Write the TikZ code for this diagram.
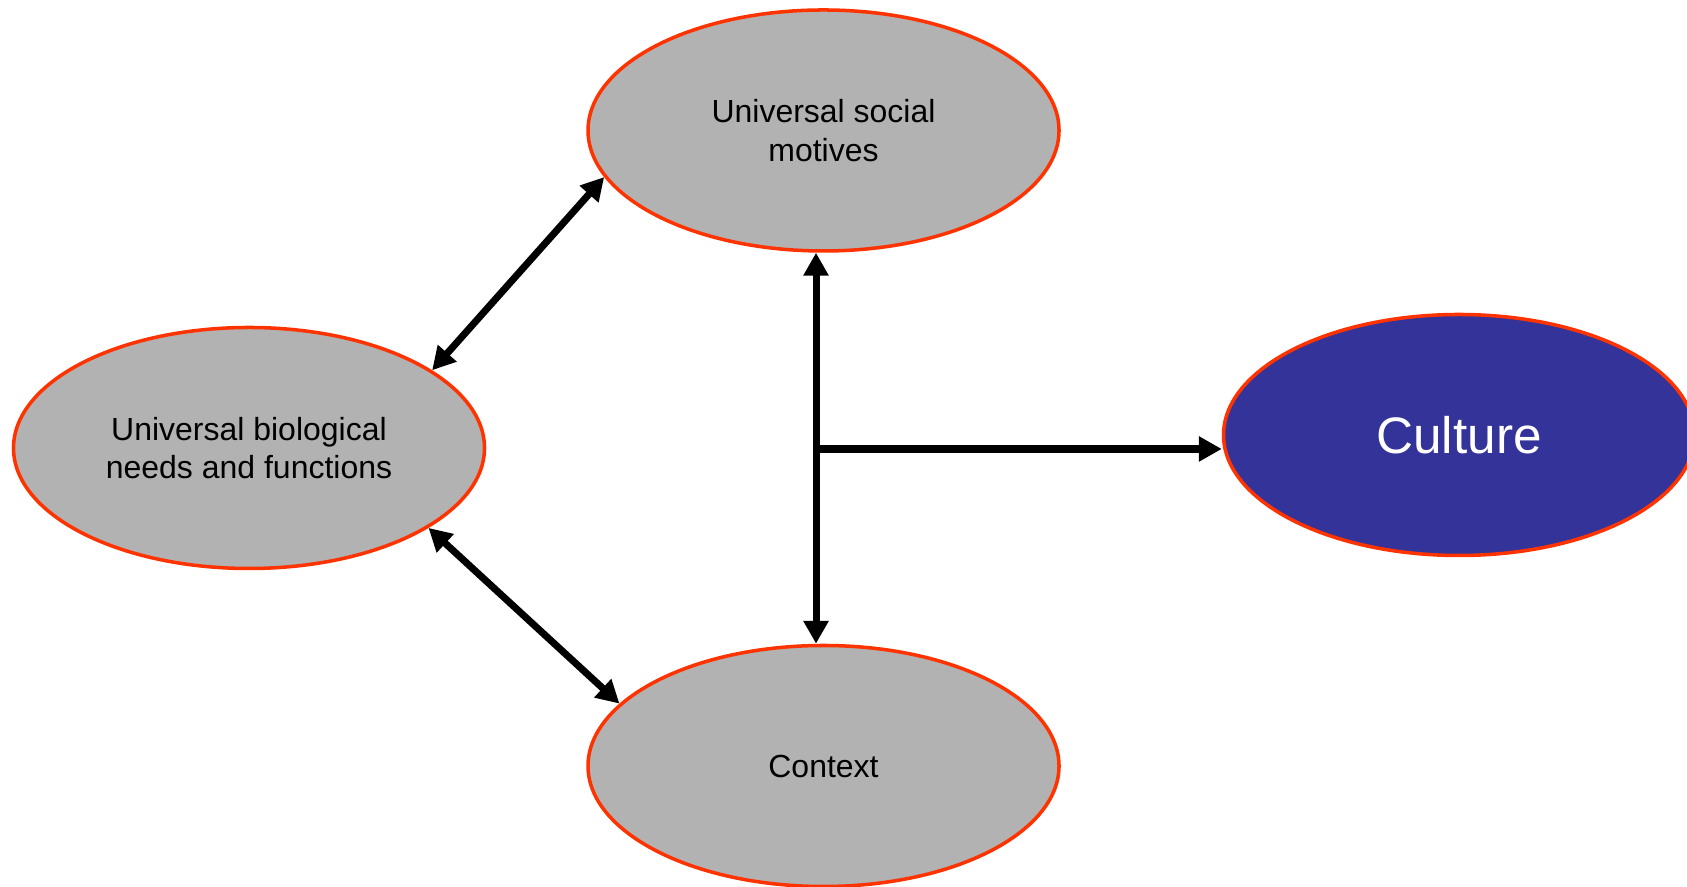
\documentclass[tikz,border=0pt]{standalone}
\usepackage{fontspec}
\setmainfont{Liberation Sans}
\usepackage{xcolor}
\usetikzlibrary{shapes.geometric, arrows.meta, calc}

\definecolor{bubblegray}{RGB}{178,178,178}
\definecolor{rimred}{RGB}{255,51,0}
\definecolor{cultblue}{RGB}{51,51,153}

\begin{document}
\begin{tikzpicture}[
  bubble/.style={ellipse, draw=rimred, line width=1pt, fill=bubblegray, minimum width=4.71cm, minimum height=2.41cm, inner sep=0pt, align=center, font=\fontsize{9.1}{11}\selectfont},
  link/.style={line width=2pt, >={Triangle[length=6.5pt, width=6.8pt]}}]

\useasboundingbox (0,0) rectangle (16.87,8.87);

\node(soc)[bubble] at (8.235,7.565){Universal social\\motives};
\node(bio)[bubble] at (2.49,4.39){Universal biological\\needs and functions};
\node(ctx)[bubble] at (8.235,1.21){Context};
\node(cult)[bubble, fill=cultblue, text=white, font=\fontsize{14.6}{17}\selectfont] at (14.59,4.52){Culture};

\coordinate (hub) at (8.16,4.38);

\draw[link, <->] (bio.23.6) -- (soc.192);
\draw[link, <->] (bio.-24.1) -- (ctx.163.2);
\draw[link, <->] (hub |- soc.south) -- (hub |- ctx.north);
\draw[link, ->] (hub) -- (hub -| cult.west);
\end{tikzpicture}
\end{document}
